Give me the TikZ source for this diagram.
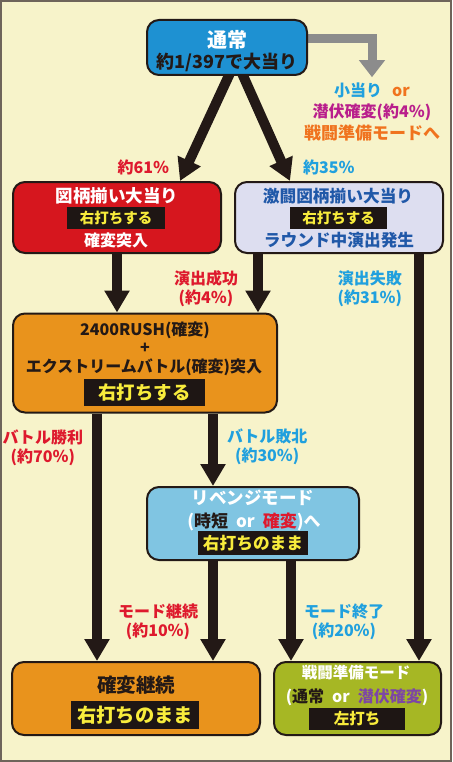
\documentclass[tikz,border=0pt]{standalone}
\usepackage{fontspec}
\setmainfont{Noto Sans CJK JP}
\usetikzlibrary{arrows.meta,backgrounds}
\definecolor{paper}{RGB}{247,243,202}
\definecolor{framecol}{RGB}{110,100,90}
\definecolor{ink}{RGB}{35,25,22}
\definecolor{shade}{RGB}{140,140,140}
\definecolor{tsujoblue}{RGB}{30,145,210}
\definecolor{zugarared}{RGB}{214,22,30}
\definecolor{gekitolav}{RGB}{221,222,240}
\definecolor{rushorange}{RGB}{233,147,28}
\definecolor{revengeblue}{RGB}{128,197,226}
\definecolor{sentoolive}{RGB}{166,183,36}
\definecolor{hitred}{RGB}{222,25,45}
\definecolor{misscyan}{RGB}{32,160,222}
\definecolor{navytxt}{RGB}{32,88,168}
\definecolor{senpukupink}{RGB}{185,30,140}
\definecolor{modeorange}{RGB}{240,115,30}
\definecolor{lilac}{RGB}{125,70,165}
\definecolor{barink}{RGB}{30,22,20}
\definecolor{baryellow}{RGB}{248,236,60}
\tikzset{
  modebox/.style   = {shape=rectangle, rounded corners=12pt,
                      draw=ink, line width=2pt, inner sep=0pt},
  sz/.style        = {font=\fontsize{#1}{#1}\selectfont\bfseries},
  txt/.style       = {inner sep=0pt},
  uchi/.style      = {fill=barink, text=baryellow, inner sep=0pt},
  lbl/.style       = {font=\fontsize{16}{19}\selectfont\bfseries,
                      align=center, inner sep=1pt},
  flow/.style      = {draw=ink, line width=10pt,
                      -{Triangle[width=24pt,length=22pt]}},
  sidearrow/.style = {draw=shade, line width=9pt,
                      -{Triangle[width=25pt,length=17pt]}}
}
\begin{document}
\begin{tikzpicture}[x=1pt, y=-1pt]
  \useasboundingbox (0,0) rectangle (452,762);

  \node[modebox, fill=tsujoblue, minimum width=160pt, minimum height=55pt] (tsujo) at (227,47.5) {};
  \node[txt, sz=20, text=white] (tsujoA) at (227,40) {通常};
  \node[txt, sz=18, text=ink] (tsujoB) at (227,62) {約1/397で大当り};

  \node[modebox, fill=zugarared, minimum width=208pt, minimum height=71pt] (zugara) at (117,217.5) {};
  \node[txt, sz=17.5, text=white] (zugaraA) at (117,196) {図柄揃い大当り};
  \node[uchi, sz=14.5, minimum width=98pt, minimum height=22pt] (zugaraB) at (116,218) {右打ちする};
  \node[txt, sz=16, text=white] (zugaraC) at (116,240) {確変突入};

  \node[modebox, fill=gekitolav, minimum width=208pt, minimum height=71pt] (gekito) at (339,217.5) {};
  \node[txt, sz=16.7, text=navytxt] (gekitoA) at (338,196) {激闘図柄揃い大当り};
  \node[uchi, sz=14.5, minimum width=97pt, minimum height=22pt] (gekitoB) at (338.5,218) {右打ちする};
  \node[txt, sz=16.7, text=navytxt] (gekitoC) at (339,240) {ラウンド中演出発生};

  \node[modebox, fill=rushorange, minimum width=264pt, minimum height=99pt] (rush) at (145,363) {};
  \node[txt, sz=16, text=ink] (rushA) at (145,330) {2400RUSH(確変)};
  \node[txt, sz=16, text=ink] (rushB) at (145,348) {+};
  \node[txt, sz=16, text=ink] (rushC) at (144,367) {エクストリームバトル(確変)突入};
  \node[uchi, sz=18.4, minimum width=121pt, minimum height=27pt] (rushD) at (144.5,392.5) {右打ちする};

  \node[modebox, fill=revengeblue, minimum width=212pt, minimum height=73pt] (revenge) at (253,523.5) {};
  \node[txt, sz=17.5, text=white] (revengeA) at (253,498) {リベンジモード};
  \node[txt, sz=17, text=white] (revengeB) at (254,522) {(\textcolor{ink}{時短}\hspace{8pt}or\hspace{8pt}\textcolor{hitred}{確変})へ};
  \node[uchi, sz=16.7, minimum width=110pt, minimum height=24pt] (revengeC) at (253,543) {右打ちのまま};

  \node[modebox, fill=rushorange, minimum width=248pt, minimum height=73pt] (kakuhen) at (136,698.5) {};
  \node[txt, sz=19.5, text=ink] (kakuhenA) at (136,685) {確変継続};
  \node[uchi, sz=19.3, minimum width=128pt, minimum height=28pt] (kakuhenB) at (135,715) {右打ちのまま};

  \node[modebox, fill=sentoolive, minimum width=167pt, minimum height=73pt] (sento) at (357.5,698.5) {};
  \node[txt, sz=15.5, text=white] (sentoA) at (356,673) {戦闘準備モード};
  \node[txt, sz=16, text=white] (sentoB) at (357,697) {(\textcolor{ink}{通常}\hspace{8pt}or\hspace{8pt}\textcolor{lilac}{潜伏確変})};
  \node[uchi, sz=15.5, minimum width=96pt, minimum height=22pt] (sentoC) at (357,719) {左打ち};

  \node[txt, sz=16] (kotari) at (372,90) {\textcolor{misscyan}{小当り}\hspace{10pt}\textcolor{modeorange}{or}};
  \node[txt, sz=16, text=senpukupink] (senpuku) at (372,112) {潜伏確変(約4％)};
  \node[txt, sz=17, text=modeorange] (junbi) at (372,133) {戦闘準備モードへ};

  \coordinate (gL) at ([xshift=-81pt]gekito.south);
  \coordinate (gR) at ([xshift=80pt]gekito.south);
  \coordinate (rL) at ([xshift=-48pt]rush.south);
  \coordinate (rR) at ([xshift=68pt]rush.south);
  \coordinate (vL) at ([xshift=-40pt]revenge.south);
  \coordinate (vR) at ([xshift=38pt]revenge.south);

  \begin{scope}[on background layer]
  \fill[paper] (0,0) rectangle (452,762);
  \draw[framecol, line width=2pt] (1,1) rectangle (451,761);
  \draw[sidearrow, shorten >=5pt] ([xshift=-6pt,yshift=9pt]tsujo.east) -| (kotari.north);
  \draw[flow] ([xshift=4pt,yshift=5pt]tsujo.south) -- node[lbl, pos=.88, left=11pt, text=hitred] (p61) {約61％} ([xshift=63pt]zugara.north);
  \draw[flow] ([xshift=14pt,yshift=5pt]tsujo.south) -- node[lbl, pos=.88, right=13pt, text=misscyan] (p35) {約35％} ([xshift=-49pt]gekito.north);
  \draw[flow] (zugara.south) -- (zugara.south |- rush.north);
  \draw[flow] (gL) -- node[lbl, pos=.59, left=14pt, text=hitred] (seiko) {演出成功\\(約4％)} (gL |- rush.north);
  \draw[flow] (gR) -- node[lbl, pos=.086, left=11pt, text=misscyan] (shippai) {演出失敗\\(約31％)} (gR |- sento.north);
  \draw[flow] (rL) -- node[lbl, pos=.14, left=8pt, text=hitred] (shori) {バトル勝利\\(約70％)} (rL |- kakuhen.north);
  \draw[flow] (rR) -- node[lbl, pos=.46, right=8pt, text=misscyan] (haiboku) {バトル敗北\\(約30％)} (rR |- revenge.north);
  \draw[flow] (vL) -- node[lbl, pos=.61, left=9pt, text=hitred] (keizoku) {モード継続\\(約10％)} (vL |- kakuhen.north);
  \draw[flow] (vR) -- node[lbl, pos=.61, right=7pt, text=misscyan] (shuryo) {モード終了\\(約20％)} (vR |- sento.north);
  \end{scope}
\end{tikzpicture}
\end{document}
